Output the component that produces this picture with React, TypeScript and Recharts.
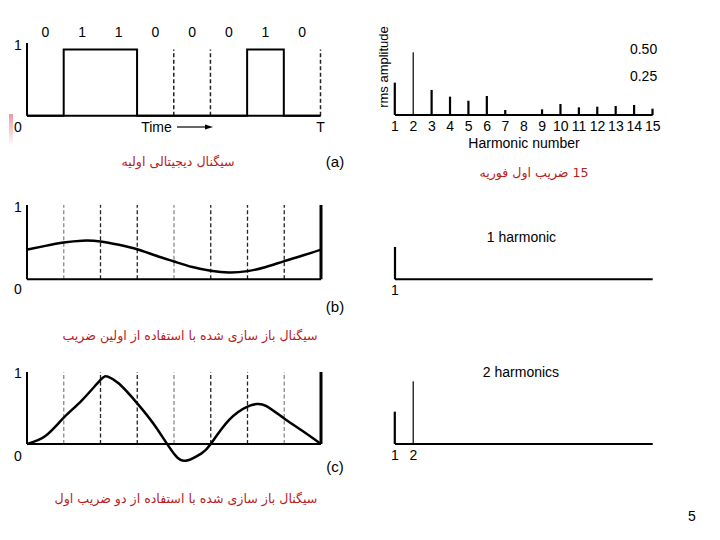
import React from "react";
import { LineChart, Line, XAxis, YAxis, ReferenceLine, BarChart, Bar } from "recharts";

// ---------- data ----------
const bitLabels = ["0", "1", "1", "0", "0", "0", "1", "0"];
const bitValues = [0, 1, 1, 0, 0, 0, 1, 0];
const bitCenters = [0.5, 1.5, 2.5, 3.5, 4.5, 5.5, 6.5, 7.5];
const dashedBoundariesA = [4, 5, 8];
const boundariesBC = [1, 2, 3, 4, 5, 6, 7];

const timeB = [0, 0.5, 1, 1.5, 2, 2.5, 3, 3.5, 4, 4.5, 5, 5.5, 6, 6.5, 7, 7.5, 8];
const valueB = [0.4, 0.45, 0.495, 0.52, 0.51, 0.465, 0.405, 0.32, 0.24, 0.165, 0.115, 0.092, 0.11, 0.165, 0.245, 0.32, 0.4];

const timeC = [0, 0.5, 1, 1.5, 2, 2.2, 2.5, 3, 3.5, 4, 4.35, 4.75, 5, 5.5, 6, 6.25, 6.5, 7, 7.5, 8];
const valueC = [0, 0.11, 0.365, 0.61, 0.89, 0.935, 0.84, 0.565, 0.24, -0.135, -0.23, -0.13, 0, 0.335, 0.52, 0.555, 0.53, 0.355, 0.18, 0];

const harmonics = [1, 2, 3, 4, 5, 6, 7, 8, 9, 10, 11, 12, 13, 14, 15];
const rmsAmplitude = [0.245, 0.475, 0.19, 0.139, 0.108, 0.144, 0.038, 0, 0.043, 0.083, 0.058, 0.063, 0.068, 0.076, 0.048];
const amplitudeTicks = [0.25, 0.5];

// ---------- derived tables ----------
const squareData = bitValues.map((v, i) => ({ t: i, v })).concat([{ t: 8, v: bitValues[7] }]);
const dataB = timeB.map((t, i) => ({ t, v: valueB[i] }));
const dataC = timeC.map((t, i) => ({ t, v: valueC[i] }));
const spectrum = harmonics.map((h, i) => ({ h, amp: rmsAmplitude[i] }));

const FONT = "'Liberation Sans', Arial, sans-serif";
const FA = "'DejaVu Sans', sans-serif";
const RED = "#b81c1c";
const tickStyle = { fontSize: 14, fill: "#000", fontFamily: FONT };
const YW = 20; // y-axis width
const XH = 20; // x-axis height

const YTick = (props: any) => {
  const { x, y, payload, offsets } = props;
  const off = offsets[payload.value] ?? 0;
  return (
    <text x={x - 9} y={y + off} textAnchor="middle" dominantBaseline="central" fontSize={14} fontFamily={FONT} fill="#000">
      {payload.value}
    </text>
  );
};

const RightTick = (props: any) => {
  const { x, y, payload } = props;
  const off = payload.value === 0.25 ? -6 : 0;
  return (
    <text x={x + 4.5} y={y + off} textAnchor="end" dominantBaseline="central" fontSize={14} fontFamily={FONT} fill="#000">
      {Number(payload.value).toFixed(2)}
    </text>
  );
};

const Stick = (props: any) => {
  const { x, y, width, height, payload } = props;
  if (!height || height <= 0) return null;
  const cx = x + width / 2;
  const w = payload.h === 2 ? 1.2 : 2.2;
  return <rect x={cx - w / 2} y={y} width={w} height={height} fill="#000" />;
};

const abs: React.CSSProperties = { position: "absolute", left: 0, top: 0 };

function SpectrumChart({ data, ticks, baseline, showAmp }: { data: any[]; ticks: number[]; baseline: number; showAmp: boolean }) {
  const pxPerUnit = 132;
  const top = baseline - 0.6 * pxPerUnit;
  return (
    <div style={abs}>
      <BarChart width={720} height={540} data={data} barSize={2}
        margin={{ top, left: 395, right: 720 - 652.7 - 10, bottom: 540 - baseline - XH }}>
        <XAxis dataKey="h" type="number" domain={[1, 15]} ticks={ticks} interval={0} height={XH}
          tickSize={0} tickMargin={6} tickLine={false} axisLine={{ stroke: "#000", strokeWidth: 2 }} tick={tickStyle} />
        <YAxis orientation="right" type="number" domain={[0, 0.6]} ticks={amplitudeTicks} width={10}
          axisLine={false} tickLine={false} tickSize={0} tickMargin={0}
          tick={showAmp ? <RightTick /> : false} />
        <Bar dataKey="amp" shape={<Stick />} isAnimationActive={false} />
      </BarChart>
    </div>
  );
}

function WaveChart({ data, top, bottom, domain, offsets, grayIdx, curve }: any) {
  return (
    <div style={abs}>
      <LineChart width={720} height={540} data={data}
        margin={{ top, left: 27 - YW, right: 720 - 321, bottom: 540 - bottom }}>
        <XAxis dataKey="t" type="number" domain={[0, 8]} hide />
        <YAxis type="number" domain={domain} ticks={[0, 1]} width={YW} axisLine={false} tickLine={false}
          tickSize={0} tickMargin={0} tick={<YTick offsets={offsets} />} />
        {boundariesBC.map((b, i) => (
          <ReferenceLine key={b} segment={[{ x: b, y: 0 }, { x: b, y: 1 }]}
            stroke={grayIdx.includes(i) ? "#8a8a8a" : "#222"} strokeWidth={1.3} strokeDasharray="4 2.5" />
        ))}
        <ReferenceLine y={0} stroke="#000" strokeWidth={2} />
        <ReferenceLine segment={[{ x: 0, y: 0 }, { x: 0, y: 1 }]} stroke="#000" strokeWidth={2} />
        <ReferenceLine segment={[{ x: 8, y: 0 }, { x: 8, y: 1 }]} stroke="#000" strokeWidth={3} />
        <Line dataKey="v" type={curve} stroke="#000" strokeWidth={2.5} dot={false} isAnimationActive={false} />
      </LineChart>
    </div>
  );
}

export default function App() {
  return (
    <div style={{ position: "absolute", left: 0, top: 0, width: 720, height: 540, background: "#fff", overflow: "hidden" }}>
      {/* (a) digital signal */}
      <div style={abs}>
        <LineChart width={720} height={540} data={squareData}
          margin={{ top: 43 - XH, left: 27 - YW, right: 720 - 320.5, bottom: 540 - 115.7 - XH }}>
          <XAxis dataKey="t" type="number" domain={[0, 8]} ticks={[8]} tickFormatter={() => "T"} interval={0}
            height={XH} tickSize={0} tickMargin={6} tickLine={false} axisLine={{ stroke: "#000", strokeWidth: 2 }} tick={tickStyle} />
          <XAxis xAxisId="bits" orientation="top" type="number" domain={[0, 8]} ticks={bitCenters} interval={0}
            tickFormatter={(v: number) => bitLabels[Math.floor(v)]} height={XH} tickSize={0} tickMargin={6}
            tickLine={false} axisLine={false} tick={tickStyle} />
          <YAxis type="number" domain={[0, 1.1]} ticks={[0, 1]} width={YW} axisLine={{ stroke: "#000", strokeWidth: 2 }}
            tickLine={false} tickSize={0} tickMargin={0} tick={<YTick offsets={{ 0: 11, 1: -5 }} />} />
          {dashedBoundariesA.map((b) => (
            <ReferenceLine key={b} segment={[{ x: b, y: 0 }, { x: b, y: 1 }]} stroke="#222" strokeWidth={1.5} strokeDasharray="4 2.5" />
          ))}
          <Line dataKey="v" type="stepAfter" stroke="#000" strokeWidth={2} dot={false} isAnimationActive={false} />
        </LineChart>
      </div>

      {/* (b) first harmonic */}
      <WaveChart data={dataB} top={205} bottom={279.3} domain={[0, 1]} offsets={{ 0: 10, 1: 2 }} grayIdx={[0, 3]} curve="natural" />
      {/* (c) two harmonics */}
      <WaveChart data={dataC} top={372} bottom={444 + 0.4 * 72} domain={[-0.4, 1]} offsets={{ 0: 12, 1: 1 }} grayIdx={[0, 3, 6]} curve="natural" />

      {/* spectra */}
      <SpectrumChart data={spectrum} ticks={harmonics} baseline={115} showAmp={true} />
      <SpectrumChart data={spectrum.slice(0, 1)} ticks={harmonics.slice(0, 1)} baseline={279.3} showAmp={false} />
      <SpectrumChart data={spectrum.slice(0, 2)} ticks={harmonics.slice(0, 2)} baseline={444} showAmp={false} />

      {/* annotations */}
      <svg width={720} height={540} style={{ ...abs, pointerEvents: "none" }}>
        <defs>
          <linearGradient id="smudge" x1="0" y1="0" x2="0" y2="1">
            <stop offset="0" stopColor="#e79aa3" />
            <stop offset="1" stopColor="#ffffff" />
          </linearGradient>
        </defs>
        <rect x={9} y={114} width={4} height={32} fill="url(#smudge)" />
        <g fontFamily={FONT} fill="#000">
          <text x={156.5} y={127} fontSize={14} textAnchor="middle" dominantBaseline="central">Time</text>
          <line x1={177} y1={127} x2={207} y2={127} stroke="#000" strokeWidth={1.2} />
          <polygon points="213,127 205,124.5 205,129.5" fill="#000" />
          <text x={383} y={67} fontSize={13} textAnchor="middle" dominantBaseline="central" transform="rotate(-90 383 67)">rms amplitude</text>
          <text x={524} y={143} fontSize={14} textAnchor="middle" dominantBaseline="central">Harmonic number</text>
          <text x={521.5} y={236.7} fontSize={14} textAnchor="middle" dominantBaseline="central">1 harmonic</text>
          <text x={521} y={371.7} fontSize={14} textAnchor="middle" dominantBaseline="central">2 harmonics</text>
          <text x={335} y={161} fontSize={15} textAnchor="middle" dominantBaseline="central">(a)</text>
          <text x={335} y={306} fontSize={15} textAnchor="middle" dominantBaseline="central">(b)</text>
          <text x={335} y={466} fontSize={15} textAnchor="middle" dominantBaseline="central">(c)</text>
          <text x={692} y={516} fontSize={14} textAnchor="middle" dominantBaseline="central">5</text>
        </g>
        <g fontFamily={FA} fill={RED} fontSize={12.6}>
          <text x={178} y={161} textAnchor="middle" dominantBaseline="central" direction="rtl">سیگنال دیجیتالی اولیه</text>
          <text x={534} y={172} textAnchor="middle" dominantBaseline="central" direction="rtl">15 ضریب اول فوریه</text>
          <text x={190} y={335.5} textAnchor="middle" dominantBaseline="central" direction="rtl">سیگنال باز سازی شده با استفاده از اولین ضریب</text>
          <text x={186} y={498} textAnchor="middle" dominantBaseline="central" direction="rtl">سیگنال باز سازی شده با استفاده از دو ضریب اول</text>
        </g>
      </svg>
    </div>
  );
}
